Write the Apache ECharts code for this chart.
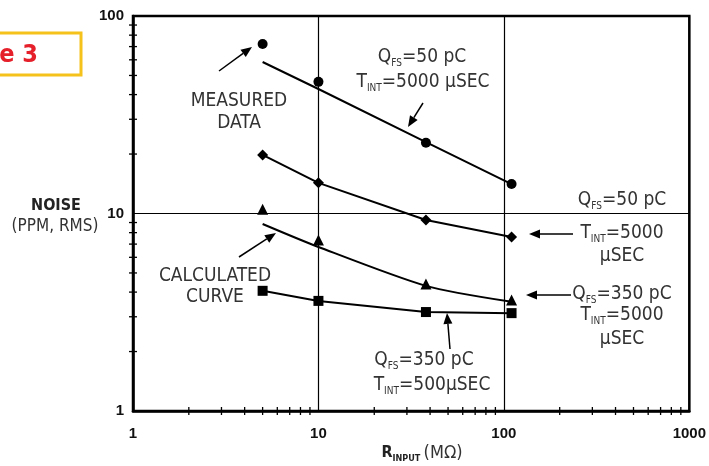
<!DOCTYPE html>
<html><head><meta charset="utf-8">
<script src="https://cdn.jsdelivr.net/npm/echarts@6/dist/echarts.min.js"></script>
<style>html,body{margin:0;padding:0;background:#fff}#c{width:709px;height:466px}</style>
</head><body><div id="c"></div>
<script>
// ---- data ----
const rInput = [5, 10, 38, 110];
const measured50 = [72.1, 46.4, 22.8, 14.1];      // circles, QFS=50 pC, TINT=5000 uSEC (measured)
const calc50 = [58.5, 42.7, 23.0, 14.1];          // calculated curve for QFS=50 pC
const q50t5000 = [19.8, 14.3, 9.27, 7.6];         // diamonds
const measured350 = [10.5, 7.35, 4.40, 3.65];     // triangles, QFS=350 pC, TINT=5000
const calc350 = [8.85, 6.77, 4.30, 3.57];         // calculated curve for triangles
const q350t500 = [4.06, 3.61, 3.17, 3.13];        // squares
const xTickLabels = ['1', '10', '100', '1000'];
const yTickLabels = ['1', '10', '100'];
const xMinor = [2,3,4,5,6,7,8,9,20,30,40,50,60,70,80,90,200,300,400,500,600,700,800,900];
const yMinor = [2,3,4,5,6,7,8,9,20,30,40,50,60,70,80,90];

const NARROW = "'Liberation Sans Narrow','Arial Narrow','DejaVu Sans Condensed',sans-serif";
const SANS = "'Liberation Sans',Arial,sans-serif";
const TXT = '#333';

const pairs = arr => rInput.map((x, i) => [x, arr[i]]);

const chart = echarts.init(document.getElementById('c'), null, {renderer: 'canvas'});

const rich = {
  m: {fontSize: 19, fontFamily: NARROW, fill: TXT, color: TXT, lineHeight: 22},
  s: {fontSize: 10, fontFamily: NARROW, fill: TXT, color: TXT, lineHeight: 10, verticalAlign: 'bottom'}
};
function txt(x, y, text) {
  return {type: 'text', z: 50, style: {x, y, text, align: 'center', verticalAlign: 'middle', rich,
    fontSize: 19, fontFamily: NARROW, fill: TXT}};
}
function arrow(x1, y1, x2, y2) {
  const L = Math.hypot(x2 - x1, y2 - y1), ux = (x2 - x1) / L, uy = (y2 - y1) / L;
  const hl = 11, hw = 4.5;
  const bx = x2 - ux * hl, by = y2 - uy * hl;
  return [
    {type: 'line', z: 50, shape: {x1, y1, x2: bx, y2: by}, style: {stroke: '#000', lineWidth: 1.5}},
    {type: 'polygon', z: 50, shape: {points: [[x2, y2], [bx - uy * hw, by + ux * hw], [bx + uy * hw, by - ux * hw]]},
      style: {fill: '#000'}}
  ];
}

const graphics = [
  // figure tag
  {type: 'rect', z: 50, shape: {x: -20, y: 33, width: 101, height: 42}, style: {fill: 'none', stroke: '#f5c21b', lineWidth: 3}},
  {type: 'text', z: 51, style: {x: 38, y: 55, text: 'Figure 3', align: 'right', verticalAlign: 'middle',
    font: "bold 25px " + NARROW, fill: '#e5202b'}},
  // y axis title
  {type: 'text', z: 50, style: {x: 56, y: 206, text: 'NOISE', align: 'center', verticalAlign: 'middle',
    font: "bold 16px " + NARROW, fill: '#222'}},
  {type: 'text', z: 50, style: {x: 55, y: 227, text: '(PPM, RMS)', align: 'center', verticalAlign: 'middle',
    font: "17px " + NARROW, fill: TXT}},
  // x axis title
  {type: 'text', z: 50, style: {x: 422, y: 453, text: '{b|R}{bs|INPUT} {m|(MΩ)}', align: 'center', verticalAlign: 'middle',
    rich: {
      b: {fontSize: 16, fontWeight: 'bold', fontFamily: NARROW, fill: '#222', lineHeight: 20},
      bs: {fontSize: 9, fontWeight: 'bold', fontFamily: NARROW, fill: '#222', lineHeight: 8, verticalAlign: 'bottom'},
      m: {fontSize: 18, fontFamily: NARROW, fill: TXT, lineHeight: 20}
    }}},
  // annotations
  txt(239, 101, '{m|MEASURED}'),
  txt(239, 123, '{m|DATA}'),
  txt(422, 57, '{m|Q}{s|FS}{m|=50 pC}'),
  txt(423, 82, '{m|T}{s|INT}{m|=5000 µSEC}'),
  txt(622, 200, '{m|Q}{s|FS}{m|=50 pC}'),
  txt(622, 233, '{m|T}{s|INT}{m|=5000}'),
  txt(622, 256, '{m|µSEC}'),
  txt(622, 294, '{m|Q}{s|FS}{m|=350 pC}'),
  txt(622, 315, '{m|T}{s|INT}{m|=5000}'),
  txt(622, 339, '{m|µSEC}'),
  txt(215, 276, '{m|CALCULATED}'),
  txt(215, 297, '{m|CURVE}'),
  txt(424, 360, '{m|Q}{s|FS}{m|=350 pC}'),
  txt(432, 385, '{m|T}{s|INT}{m|=500µSEC}'),
  ...arrow(219, 71, 252, 47),
  ...arrow(423, 103, 408, 127),
  ...arrow(573, 234, 529, 234),
  ...arrow(571, 295, 526, 295),
  ...arrow(239, 257, 276, 233),
  ...arrow(450, 349, 447, 313)
];

const tickRender = (axis) => (params, api) => {
  const p = api.coord([api.value(0), api.value(1)]);
  const shape = axis === 'x'
    ? {x1: p[0], y1: p[1] - 4, x2: p[0], y2: p[1] + 4}
    : {x1: p[0] - 4, y1: p[1], x2: p[0] + 4, y2: p[1]};
  return {type: 'line', shape, style: {stroke: '#000', lineWidth: 1.3}};
};

const axisCommon = {
  type: 'log', logBase: 10,
  axisLine: {show: true, lineStyle: {color: '#000', width: 2.5}},
  axisTick: {show: false},
  splitLine: {show: true, lineStyle: {color: '#000', width: 1.2}},
  minorTick: {show: false}, minorSplitLine: {show: false}
};

chart.setOption({
  animation: false,
  backgroundColor: '#fff',
  grid: {left: 133, right: 19, top: 16, bottom: 55, show: true, borderColor: '#000', borderWidth: 2.5, backgroundColor: 'transparent'},
  xAxis: Object.assign({}, axisCommon, {
    min: 1, max: 1000,
    axisLabel: {margin: 15, fontFamily: SANS, fontWeight: 'bold', fontSize: 15, color: '#111',
      formatter: v => xTickLabels[Math.round(Math.log10(v))]}
  }),
  yAxis: Object.assign({}, axisCommon, {
    min: 1, max: 100,
    axisLabel: {margin: 9, fontFamily: SANS, fontWeight: 'bold', fontSize: 15, color: '#111',
      formatter: v => yTickLabels[Math.round(Math.log10(v))]}
  }),
  graphic: graphics,
  series: [
    {type: 'line', name: 'calc50', data: pairs(calc50), showSymbol: false, symbol: 'none',
      lineStyle: {color: '#000', width: 2}, z: 3},
    {type: 'scatter', name: 'measured50', data: pairs(measured50), symbol: 'circle', symbolSize: 10,
      itemStyle: {color: '#000', opacity: 1}, z: 4},
    {type: 'line', name: 'q50t5000', data: pairs(q50t5000), symbol: 'diamond', symbolSize: 11, showAllSymbol: true,
      lineStyle: {color: '#000', width: 2}, itemStyle: {color: '#000', opacity: 1}, z: 4},
    {type: 'line', name: 'calc350', data: pairs(calc350), showSymbol: false, symbol: 'none', smooth: 0.25,
      lineStyle: {color: '#000', width: 2}, z: 3},
    {type: 'scatter', name: 'measured350', data: pairs(measured350), symbol: 'triangle', symbolSize: 11,
      itemStyle: {color: '#000', opacity: 1}, z: 4},
    {type: 'line', name: 'q350t500', data: pairs(q350t500), symbol: 'rect', symbolSize: 10, showAllSymbol: true,
      lineStyle: {color: '#000', width: 2}, itemStyle: {color: '#000', opacity: 1}, z: 4},
    {type: 'custom', name: 'xMinorTicks', data: xMinor.map(v => [v, 1]), renderItem: tickRender('x'), clip: false, z: 5, silent: true},
    {type: 'custom', name: 'yMinorTicks', data: yMinor.map(v => [1, v]), renderItem: tickRender('y'), clip: false, z: 5, silent: true}
  ]
});
</script>
</body></html>
